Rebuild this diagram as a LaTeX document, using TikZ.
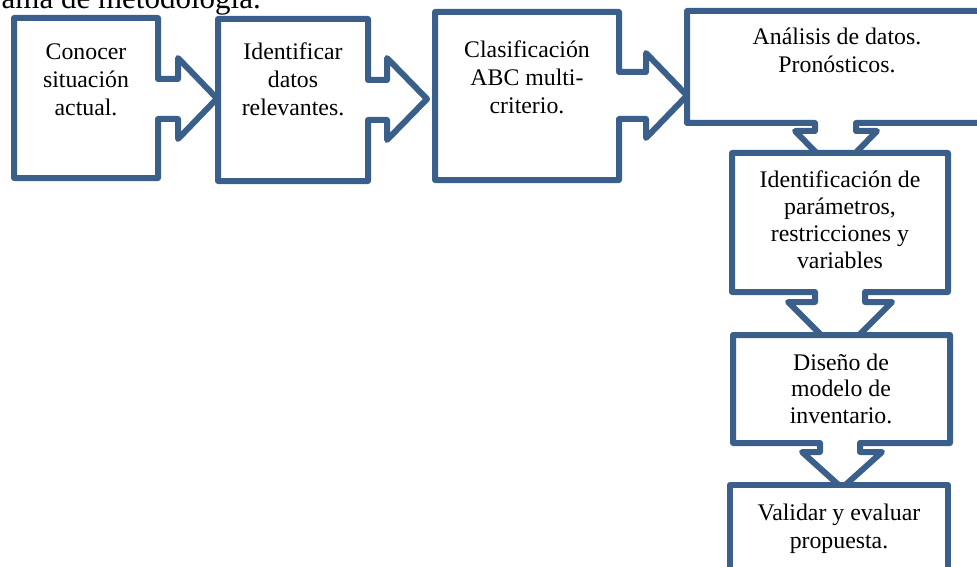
\documentclass[tikz,border=0pt]{standalone}
\usepackage{fontspec}
\setmainfont{Liberation Serif}
\definecolor{callblue}{RGB}{58,95,139}
\begin{document}
\begin{tikzpicture}[x=1pt,y=-1pt,
  callout/.style={draw=callblue,fill=white,line width=6pt,line join=round},
  lbl/.style={anchor=base,inner sep=0pt,font=\fontsize{23.8}{28}\selectfont}]
\useasboundingbox (0,0) rectangle (977,567);
\clip (0,0) rectangle (977,567);
\node[anchor=base east,inner sep=0pt,font=\fontsize{31}{36}\selectfont] (title) at (261,9) {Diagrama de metodología.};
% box 1
\draw[callout] (14,18) -- (158,18) -- (158,79) -- (178,79) -- (178,58) -- (217,98.5) -- (178,139) -- (178,119) -- (158,119) -- (158,178) -- (14,178) -- cycle;
\node[lbl] (t1) at (86,60) {\parbox[t]{200pt}{\centering Conocer\\situación\\actual.}};
% box 2
\draw[callout] (218,19) -- (368,19) -- (368,80) -- (387,80) -- (387,58) -- (427,99) -- (387,140) -- (387,120) -- (368,120) -- (368,181) -- (218,181) -- cycle;
\node[lbl] (t2) at (293,60) {\parbox[t]{200pt}{\centering Identificar\\datos\\relevantes.}};
% box 3
\draw[callout] (435,12) -- (619,12) -- (619,72) -- (646,72) -- (646,53) -- (687,95.5) -- (646,138) -- (646,119) -- (619,119) -- (619,180) -- (435,180) -- cycle;
\node[lbl] (t3) at (527,58) {\parbox[t]{200pt}{\centering Clasificación\\ABC multi-\\criterio.}};
% box 4
\draw[callout] (687,11) -- (995,11) -- (995,123) -- (856,123) -- (856,131) -- (877,131) -- (836,173) -- (795,131) -- (815,131) -- (815,123) -- (687,123) -- cycle;
\node[lbl] (t4) at (837,45) {\parbox[t]{280pt}{\centering Análisis de datos.\\Pronósticos.}};
% box 5
\draw[callout] (732,153) -- (948,153) -- (948,292) -- (865,292) -- (865,302) -- (892,302) -- (840,354) -- (788,302) -- (815,302) -- (815,292) -- (732,292) -- cycle;
\node[lbl,font=\fontsize{23.8}{27}\selectfont] (t5) at (840,187) {\parbox[t]{210pt}{\centering Identificación de\\parámetros,\\restricciones y\\variables}};
% box 6
\draw[callout] (733,335) -- (950,335) -- (950,443) -- (860,443) -- (860,452) -- (882,452) -- (842,488) -- (802,452) -- (820,452) -- (820,443) -- (733,443) -- cycle;
\node[lbl,font=\fontsize{23.8}{26.5}\selectfont] (t6) at (841,370) {\parbox[t]{210pt}{\centering Diseño de\\modelo de\\inventario.}};
% box 7
\draw[callout] (730,485) -- (948,485) -- (948,610) -- (730,610) -- cycle;
\node[lbl] (t7) at (839,520) {\parbox[t]{210pt}{\centering Validar y evaluar\\propuesta.}};
\end{tikzpicture}
\end{document}
